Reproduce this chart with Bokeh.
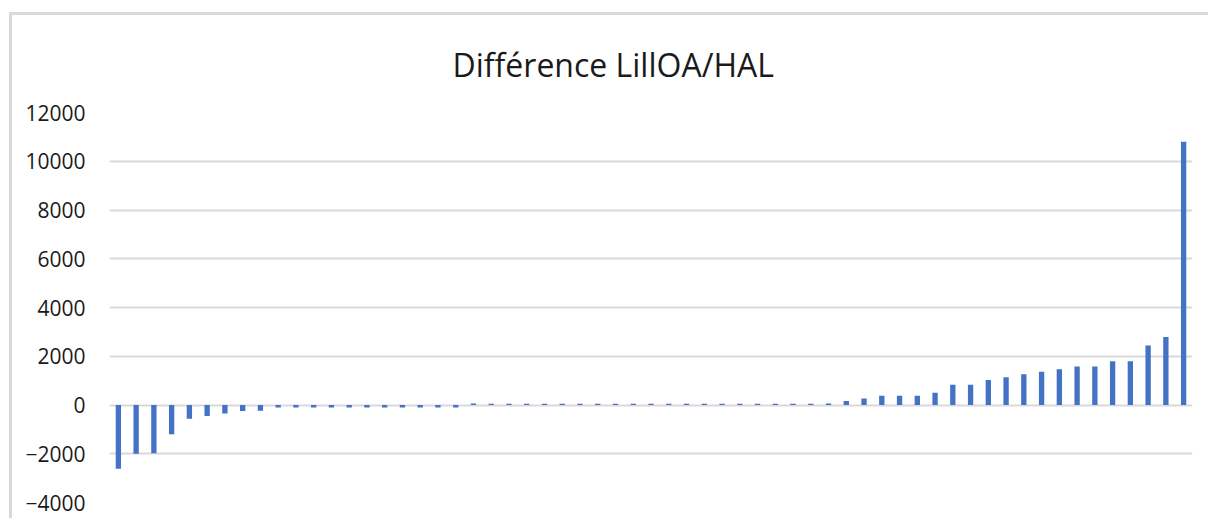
from bokeh.plotting import figure
from bokeh.models import Range1d, FixedTicker, ColumnDataSource
from bokeh.embed import file_html
from bokeh.resources import INLINE

title_text = "Différence LillOA/HAL"
y_ticks = [-4000, -2000, 0, 2000, 4000, 6000, 8000, 10000, 12000]

negatives = [-2620, -2000, -1980, -1200, -560, -450, -350, -250, -240,
             -100, -100, -100, -100, -100, -100, -100, -100, -100, -100, -100]
near_zero = [60, 50, 50, 50, 50, 50, 50, 50, 50, 50, 50, 50, 50, 50, 50, 50, 50, 50, 50, 50, 60]
positives = [160, 270, 380, 380, 380, 500, 830, 830, 1030, 1140, 1260, 1360,
             1470, 1580, 1580, 1800, 1800, 2440, 2790, 10800]

values = negatives + near_zero + positives
idx = list(range(1, len(values) + 1))

src = ColumnDataSource(dict(x=idx, top=values))

p = figure(width=1199, height=506, output_backend="svg", toolbar_location=None,
           x_range=Range1d(0.5, len(values) + 0.5), y_range=Range1d(-4000, 12000),
           min_border_left=97, min_border_top=97, min_border_right=19, min_border_bottom=19)
p.styles = {"margin-left": "9px", "margin-top": "12px",
            "border-left": "3px solid #D9D9D9", "border-top": "3px solid #D9D9D9"}

p.vbar(x="x", top="top", bottom=0, width=0.3, source=src, color="#4472C4", line_color=None)

p.title.text = title_text
p.title.align = "left"
p.title.offset = 343
p.title.vertical_align = "top"
p.title.text_font = "Open Sans"
p.title.text_font_size = "32px"
p.title.text_font_style = "normal"
p.title.text_color = "#1a1a1a"
p.title.standoff = 50

p.xaxis.visible = False
p.xgrid.grid_line_color = None
p.ygrid.grid_line_color = "#D9D9D9"
p.ygrid.grid_line_width = 2
p.ygrid.ticker = FixedTicker(ticks=y_ticks)

ya = p.yaxis[0]
ya.ticker = FixedTicker(ticks=y_ticks)
ya.axis_line_color = None
ya.major_tick_line_color = None
ya.minor_tick_line_color = None
ya.major_tick_out = 0
ya.major_tick_in = 0
ya.major_label_standoff = 24
ya.major_label_text_font = "Open Sans"
ya.major_label_text_font_size = "21px"
ya.major_label_text_color = "#1a1a1a"

p.outline_line_color = None
p.background_fill_color = "white"
p.border_fill_color = "white"

open("out.html", "w").write(file_html(p, INLINE))
